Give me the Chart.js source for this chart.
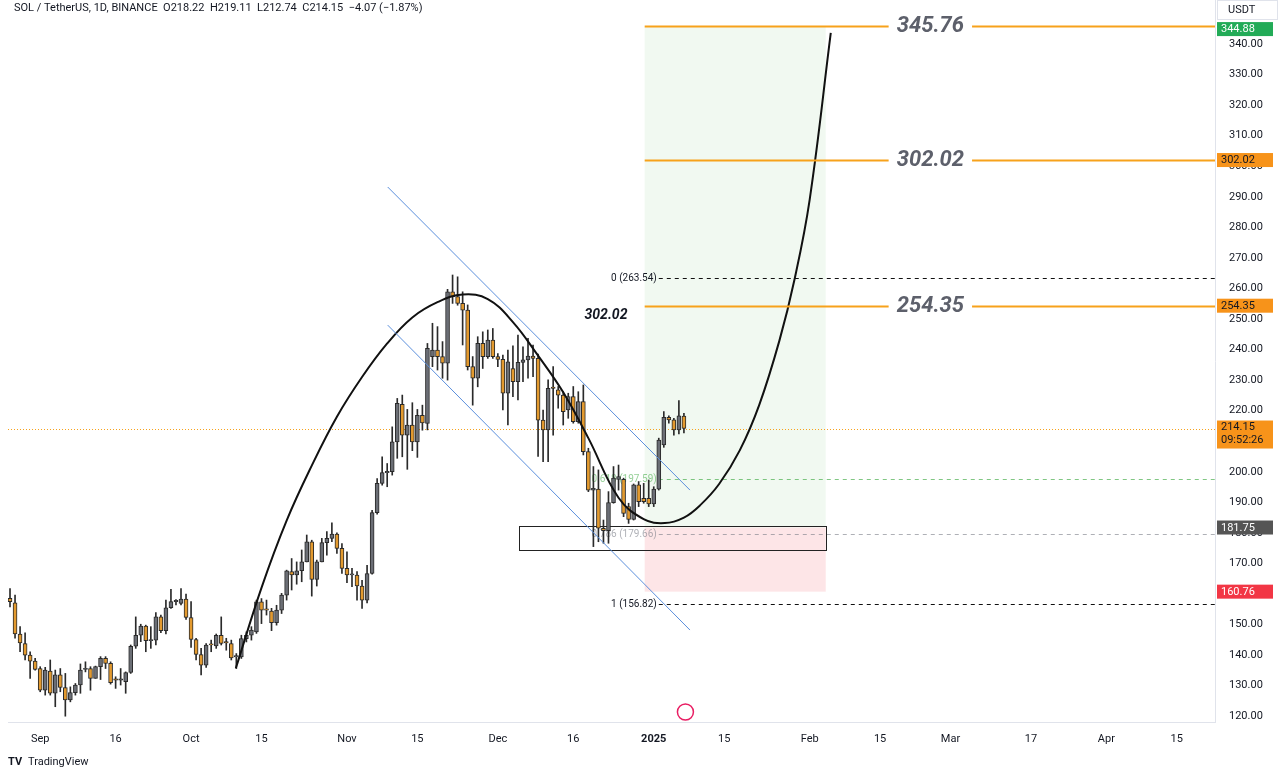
<!DOCTYPE html>
<html>
<head>
<meta charset="utf-8">
<style>
  html, body { margin: 0; padding: 0; background: #fff; }
  #wrap { position: relative; width: 1280px; height: 778px; }
</style>
<script src="https://cdn.jsdelivr.net/npm/chart.js@4.4.1/dist/chart.umd.min.js"></script>
</head>
<body>
<div id="wrap"><canvas id="c" width="1280" height="778"></canvas></div>
<script>
// ===== DATA (day index 0 = 26 Aug 2024, daily candles) =====
const OPENS = [158.6,157.1,146.9,143.8,140.0,138.0,135.6,128.5,134.8,127.5,133.5,129.4,125.3,127.7,130.2,135.3,135.6,132.4,136.2,138.9,
  137.3,131.8,131.8,131.3,134.3,142.9,146.5,149.5,144.7,144.9,152.5,148.0,155.5,157.5,156.9,158.3,152.3,145.1,140.2,136.7,
  143.3,143.0,146.5,144.0,143.8,139.4,139.4,145.4,146.5,147.6,157.4,154.7,154.4,150.6,154.7,159.6,167.3,166.2,167.6,170.5,
  177.1,164.8,170.5,176.8,178.2,179.6,174.9,168.4,166.2,166.2,162.6,158.0,166.7,186.6,196.2,199.7,200.0,209.8,222.1,212.0,
  215.3,209.8,218.5,215.8,237.7,239.8,237.7,235.5,258.9,257.3,255.1,252.9,234.4,230.6,242.0,237.7,243.1,237.7,236.8,225.7,
  233.8,229.5,235.8,236.6,237.9,237.1,216.9,213.7,227.3,226.8,225.1,220.2,224.6,216.4,223.0,206.6,194.0,194.3,181.5,180.7,
  189.9,197.5,197.5,188.6,184.4,195.7,191.3,191.3,189.5,194.3,208.8,217.8,217.0,213.7,218.22];
const HIGHS = [161.8,159.6,149.3,147.3,141.1,138.9,136.2,136.0,138.4,135.1,135.6,134.0,129.6,130.7,137.1,137.8,136.2,136.4,139.5,139.5,
  137.8,132.9,135.6,134.5,143.3,152.5,150.1,149.8,149.3,153.9,153.1,158.0,161.5,158.2,161.8,160.0,157.5,145.5,142.2,143.8,
  144.9,146.9,152.5,145.5,144.9,140.5,146.5,147.6,149.3,158.0,158.5,158.0,155.3,156.3,160.2,167.8,171.6,170.5,174.4,179.3,
  177.6,171.1,178.2,180.4,183.3,180.0,176.5,173.8,168.4,167.3,164.5,169.4,187.4,197.8,204.9,202.7,214.7,224.0,225.1,220.4,
  222.6,220.4,221.8,242.0,248.6,247.5,242.6,259.7,264.4,263.8,258.9,254.6,237.7,244.2,245.8,246.4,246.9,238.7,238.2,239.8,
  241.2,244.7,240.9,243.7,241.5,238.5,220.2,230.1,234.4,227.9,226.2,225.7,227.9,226.2,228.4,207.7,201.7,200.6,184.2,193.5,
  201.7,202.2,197.9,189.7,196.0,196.8,196.2,197.3,195.1,211.0,219.7,218.3,217.5,223.3,219.11];
const LOWS = [155.8,145.5,141.1,138.4,132.4,135.1,128.0,126.9,126.9,123.1,128.0,120.0,124.7,126.9,127.5,134.5,128.5,132.4,132.0,135.6,
  130.5,129.1,130.2,127.5,134.0,142.2,144.4,141.1,142.2,143.3,147.3,146.9,155.3,156.4,156.4,151.7,142.5,138.4,133.5,136.0,
  141.1,142.2,143.3,141.6,138.4,135.6,138.9,144.3,144.9,147.1,150.3,153.1,148.0,149.8,153.6,158.0,161.3,163.2,164.0,170.5,
  159.3,162.6,170.5,172.7,177.1,173.3,166.7,163.7,162.4,158.0,155.3,157.1,166.5,186.1,195.6,195.1,198.9,204.4,204.9,200.8,
  206.9,204.7,213.6,213.7,234.4,233.3,230.6,230.0,255.1,254.5,241.5,233.3,221.8,227.8,233.8,237.1,237.1,234.4,220.2,215.3,
  224.6,223.5,229.5,230.6,231.1,205.0,203.3,203.3,212.0,220.8,215.3,217.5,215.9,215.9,205.5,193.5,175.5,177.1,176.6,176.6,
  189.7,194.0,185.3,183.1,184.2,188.6,189.7,188.6,188.6,194.0,208.0,215.9,212.0,212.4,212.74];
const CLOSES = [157.5,146.9,144.0,140.0,138.0,135.3,128.5,135.1,127.5,133.5,129.4,125.3,127.7,130.2,135.1,135.6,132.4,136.2,138.9,137.3,
  131.0,131.6,132.0,134.3,142.9,146.5,149.5,144.7,144.9,152.5,148.0,155.5,157.5,157.8,158.3,152.3,145.1,140.2,136.7,143.3,
  143.0,146.5,143.8,143.8,139.1,139.7,145.4,146.5,148.2,157.4,154.7,154.5,150.6,154.7,159.6,167.6,166.2,167.6,170.5,177.1,
  164.8,170.5,176.8,178.2,179.6,174.9,168.4,166.2,166.4,162.6,158.0,166.7,186.6,196.2,199.7,200.0,209.8,222.4,212.0,215.3,
  209.8,218.5,216.0,240.4,239.8,237.7,235.5,258.9,257.3,255.1,252.9,234.4,230.6,242.0,237.7,243.1,237.7,236.8,225.7,236.0,
  229.5,235.8,236.6,237.9,237.1,216.9,213.7,227.3,227.0,225.1,219.7,224.6,216.4,223.0,206.6,194.0,194.6,181.5,180.7,189.9,
  197.9,198.4,186.4,184.4,195.7,190.2,190.2,189.5,194.3,210.4,217.8,217.0,213.7,218.3,214.15];

// hand-drawn cup curve, [day, price]
const CURVE = [[44.9,135.7],[50,162],[55,184],[60,202],[65,218],[70,231],[75,242],[80,250.5],[85,255.5],[90,258],[95,256.5],
  [100,249],[105,238],[110,226],[115,211],[121,191.5],[126,184.5],[130.2,183.2],[134,185],[137.2,189],[141,196],[145.1,207],
  [149,222],[153,243],[156,263],[159,289],[163.2,343.6]];
// channel lines [[day, price],[day, price]]
const CHANNEL_UP = [[75.1,293.2],[135.2,194.0]];
const CHANNEL_DN = [[75.1,248.0],[135.2,148.2]];

const TARGETS = [345.76, 302.02, 254.35];
const FIB = [[0,263.54],[0.618,197.59],[0.786,179.66],[1,156.82]];
const ENTRY = 181.75, STOP = 160.76, LAST = 214.15;
const POS_DAYS = [126.2, 162.2];
const BOX = [[101.2,182.2],[162.2,174.4]];

const X_TICKS = [6,21,36,50,67,81,97,112,128,142,159,173,187,203,218,232];
const X_LABELS = ['Sep','16','Oct','15','Nov','15','Dec','16','2025','15','Feb','15','Mar','17','Apr','15'];
const Y_TICKS = [120,130,140,150,160,170,180,190,200,210,220,230,240,250,260,270,280,290,300,310,320,330,340];

const UP = '#6b6e75', DOWN = '#e39a2f', EDGE = '#2a2a2a';
const FONT = 'Roboto, "Noto Sans", sans-serif';

const days = OPENS.map((_, i) => i);
const wicks = days.map(i => ({ x: i, y: [LOWS[i], HIGHS[i]] }));
const bodies = days.map(i => {
  let a = OPENS[i], b = CLOSES[i];
  if (Math.abs(a - b) < 0.4) b = a + 0.4;
  return { x: i, y: [a, b] };
});
const bodyColor = days.map(i => CLOSES[i] >= OPENS[i] ? UP : DOWN);

// ===== DRAWINGS PLUGIN =====
const drawings = {
  id: 'drawings',
  beforeDatasetsDraw(chart) {
    const { ctx, chartArea: a, scales: { x, y } } = chart;
    const x0 = x.getPixelForValue(POS_DAYS[0]), x1 = x.getPixelForValue(POS_DAYS[1]);
    ctx.save();
    ctx.fillStyle = 'rgba(76,175,80,0.08)';
    ctx.fillRect(x0, y.getPixelForValue(TARGETS[0]), x1 - x0, y.getPixelForValue(ENTRY) - y.getPixelForValue(TARGETS[0]));
    ctx.fillStyle = 'rgba(242,54,69,0.13)';
    ctx.fillRect(x0, y.getPixelForValue(ENTRY), x1 - x0, y.getPixelForValue(STOP) - y.getPixelForValue(ENTRY));
    // last price dotted line
    ctx.strokeStyle = '#f7a21b'; ctx.lineWidth = 1; ctx.setLineDash([1, 2]);
    const ly = Math.round(y.getPixelForValue(LAST)) + 0.5;
    ctx.beginPath(); ctx.moveTo(a.left, ly); ctx.lineTo(a.right, ly); ctx.stroke();
    // fib levels
    const fx0 = x.getPixelForValue(129);
    FIB.forEach(([r, p]) => {
      const py = Math.round(y.getPixelForValue(p)) + 0.5;
      ctx.setLineDash([4, 4]);
      ctx.strokeStyle = r === 0.618 ? 'rgba(76,175,80,0.7)' : r === 0.786 ? 'rgba(120,123,134,0.6)' : '#111';
      ctx.beginPath(); ctx.moveTo(fx0, py); ctx.lineTo(a.right, py); ctx.stroke();
      ctx.setLineDash([]);
      ctx.font = '10px ' + FONT; ctx.textAlign = 'right'; ctx.textBaseline = 'middle';
      ctx.fillStyle = r === 0.618 ? 'rgba(76,175,80,0.6)' : r === 0.786 ? 'rgba(120,123,134,0.6)' : '#131722';
      ctx.fillText(r + ' (' + p.toFixed(2) + ')', fx0 - 2, py);
    });
    // rectangle zone
    ctx.setLineDash([]); ctx.strokeStyle = '#222'; ctx.lineWidth = 1;
    const bx0 = x.getPixelForValue(BOX[0][0]), bx1 = x.getPixelForValue(BOX[1][0]);
    const by0 = y.getPixelForValue(BOX[0][1]), by1 = y.getPixelForValue(BOX[1][1]);
    ctx.strokeRect(Math.round(bx0) + 0.5, Math.round(by0) + 0.5, Math.round(bx1 - bx0), Math.round(by1 - by0));
    ctx.restore();
  },
  afterDatasetsDraw(chart) {
    const { ctx, chartArea: a, scales: { x, y } } = chart;
    ctx.save();
    // channel
    ctx.strokeStyle = '#5b8fdc'; ctx.lineWidth = 1;
    [CHANNEL_UP, CHANNEL_DN].forEach(l => {
      ctx.beginPath();
      ctx.moveTo(x.getPixelForValue(l[0][0]), y.getPixelForValue(l[0][1]));
      ctx.lineTo(x.getPixelForValue(l[1][0]), y.getPixelForValue(l[1][1]));
      ctx.stroke();
    });
    // target lines with labels
    const tx0 = x.getPixelForValue(POS_DAYS[0]);
    const cx = x.getPixelForValue(183);
    TARGETS.forEach(p => {
      const py = Math.round(y.getPixelForValue(p)) + 0.5;
      ctx.font = 'italic bold 22px ' + FONT;
      const w = ctx.measureText(p.toFixed(2)).width;
      ctx.strokeStyle = '#f7a21b'; ctx.lineWidth = 2;
      ctx.beginPath(); ctx.moveTo(tx0, py); ctx.lineTo(cx - w / 2 - 8, py);
      ctx.moveTo(cx + w / 2 + 8, py); ctx.lineTo(a.right, py); ctx.stroke();
      ctx.fillStyle = '#5d606b'; ctx.textAlign = 'center'; ctx.textBaseline = 'middle';
      ctx.fillText(p.toFixed(2), cx, py);
    });
    ctx.font = 'italic bold 14px ' + FONT; ctx.fillStyle = '#131722'; ctx.textAlign = 'center';
    ctx.fillText(TARGETS[1].toFixed(2), x.getPixelForValue(118.5), y.getPixelForValue(251));
    // price boxes on the axis
    const tags = [[344.88, '#22ab57', '#fff'], [TARGETS[1], '#f7931a', '#131722'], [TARGETS[2], '#f7931a', '#131722'],
      [ENTRY, '#555', '#fff'], [STOP, '#f23645', '#fff']];
    ctx.font = '11px ' + FONT; ctx.textAlign = 'left'; ctx.textBaseline = 'middle';
    tags.forEach(([p, bg, fg]) => {
      const py = y.getPixelForValue(p);
      ctx.fillStyle = bg; ctx.fillRect(a.right + 2, py - 7, 56, 14);
      ctx.fillStyle = fg; ctx.fillText(p.toFixed(2), a.right + 6, py + 0.5);
    });
    const py = y.getPixelForValue(LAST);
    ctx.fillStyle = '#f7931a'; ctx.fillRect(a.right + 2, py - 8, 56, 28);
    ctx.fillStyle = '#131722';
    ctx.fillText(LAST.toFixed(2), a.right + 6, py - 1);
    ctx.fillText('09:52:26', a.right + 6, py + 12);
    // header / footer
    ctx.fillStyle = '#131722'; ctx.font = '11px ' + FONT;
    ctx.fillText('SOL / TetherUS, 1D, BINANCE  O218.22  H219.11  L212.74  C214.15  \u22124.07 (\u22121.87%)', 14, 8);
    ctx.font = '11px ' + FONT; ctx.fillText('USDT', a.right + 13, 10);
    ctx.strokeStyle = '#e0e3eb'; ctx.lineWidth = 1; ctx.strokeRect(a.right + 2.5, 0.5, 60, 19);
    ctx.font = 'bold 11px ' + FONT; ctx.fillText('TV', 8, 762);
    ctx.font = '11px ' + FONT; ctx.fillText('TradingView', 28, 762);
    ctx.strokeStyle = '#e91e63'; ctx.lineWidth = 1.5;
    ctx.beginPath(); ctx.arc(x.getPixelForValue(134.3), a.bottom - 10, 8, 0, Math.PI * 2); ctx.stroke();
    ctx.restore();
  }
};

new Chart(document.getElementById('c'), {
  data: {
    datasets: [
      { type: 'bar', data: wicks, backgroundColor: EDGE, barThickness: 1, grouped: false, order: 3 },
      { type: 'bar', data: bodies, backgroundColor: bodyColor, borderColor: EDGE, borderWidth: 1,
        borderSkipped: false, barThickness: 4, grouped: false, order: 2 },
      { type: 'line', data: CURVE.map(([d, p]) => ({ x: d, y: p })), borderColor: '#111', borderWidth: 2,
        pointRadius: 0, tension: 0.4, order: 1 }
    ]
  },
  options: {
    responsive: false, animation: false, devicePixelRatio: 1,
    layout: { padding: { left: 8, right: 0, top: 0, bottom: 30 } },
    plugins: { legend: { display: false }, tooltip: { enabled: false } },
    scales: {
      x: {
        type: 'linear', min: -0.4, max: 239.6, offset: false,
        grid: { display: false }, border: { display: true, color: '#e0e3eb' },
        afterBuildTicks: s => { s.ticks = X_TICKS.map(v => ({ value: v })); },
        afterFit: s => { s.height = 26; s.paddingLeft = 0; s.paddingRight = 0; },
        ticks: {
          autoSkip: false, maxRotation: 0, color: '#131722', font: c => ({ family: FONT, size: 11, weight: c.index === 8 ? 'bold' : 'normal' }),
          callback: (v, i) => X_LABELS[i]
        }
      },
      y: {
        position: 'right', min: 118.1, max: 354.4,
        grid: { display: false }, border: { display: true, color: '#e0e3eb' },
        afterBuildTicks: s => { s.ticks = Y_TICKS.map(v => ({ value: v })); },
        afterFit: s => { s.width = 65; s.paddingTop = 0; s.paddingBottom = 0; },
        ticks: { color: '#131722', font: { family: FONT, size: 11 }, padding: 6, callback: v => v.toFixed(2) }
      }
    }
  },
  plugins: [drawings]
});
</script>
</body>
</html>
